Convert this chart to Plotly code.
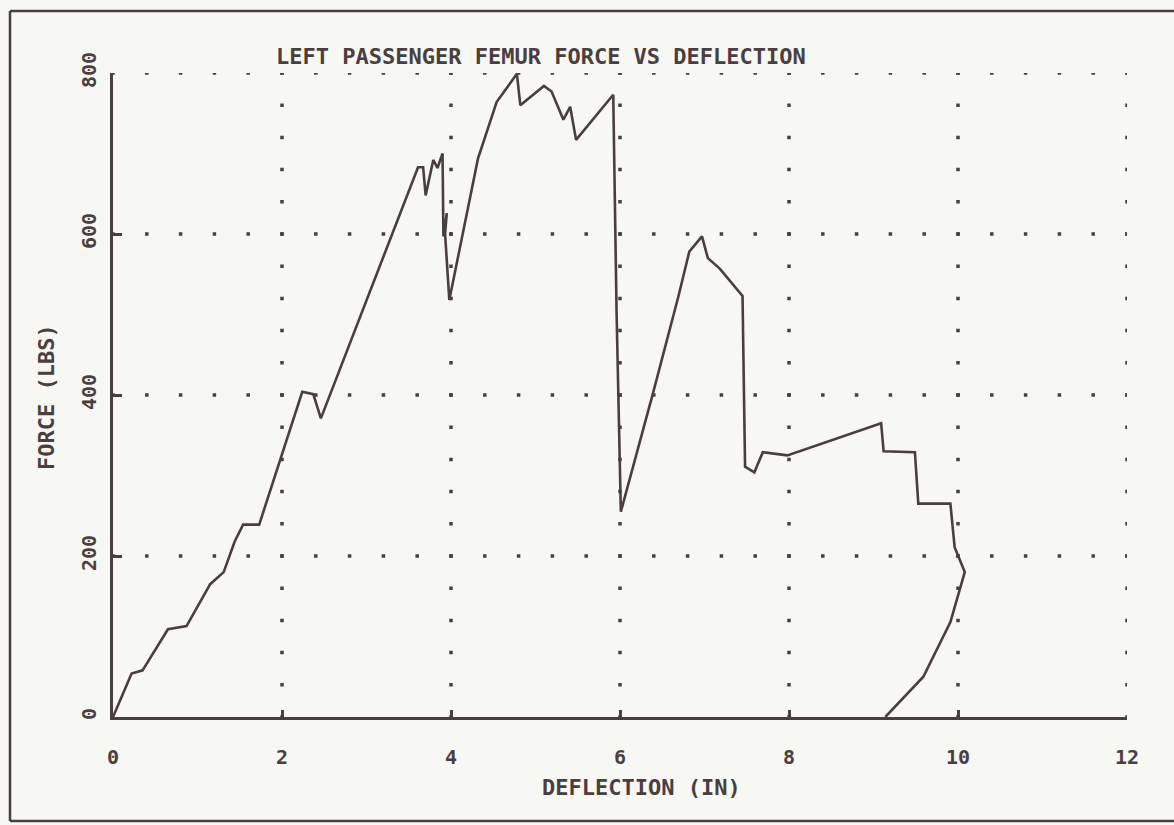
import plotly.graph_objects as go

# Deflection (in) and femur force (lbs)
deflection = [0.00, 0.22, 0.35, 0.65, 0.87, 1.15, 1.31, 1.44, 1.54, 1.73, 2.24, 2.37, 2.46,
              3.61, 3.67, 3.70, 3.79, 3.84, 3.90, 3.91, 3.95, 3.93, 3.98,
              4.32, 4.54, 4.78, 4.82, 5.10, 5.19, 5.33, 5.41, 5.48, 5.92, 5.96, 6.01,
              6.39, 6.69, 6.82, 6.97, 7.04, 7.18, 7.45, 7.48, 7.59, 7.69, 7.98,
              9.09, 9.12, 9.49, 9.53, 9.91, 9.96, 10.08, 10.02, 9.91, 9.59, 9.14]
force = [0, 54, 58, 109, 113, 165, 180, 218, 239, 239, 404, 401, 371,
         683, 683, 648, 692, 682, 700, 597, 626, 600, 518,
         694, 764, 799, 760, 784, 777, 742, 758, 717, 773, 500, 255,
         402, 522, 578, 597, 570, 557, 523, 311, 304, 329, 325,
         365, 330, 329, 265, 265, 211, 180, 158, 118, 50, 0]

x_ticks = [0, 2, 4, 6, 8, 10, 12]
y_ticks = [0, 200, 400, 600, 800]
x_range = [0, 12]
y_range = [0, 800]

title_text = "LEFT PASSENGER FEMUR FORCE VS DEFLECTION"
x_title = "DEFLECTION (IN)"
y_title = "FORCE (LBS)"

INK = "#4a3e3f"
BG = "#f7f7f3"
FONT = "DejaVu Sans Mono"

fig = go.Figure()
fig.add_trace(go.Scatter(x=deflection, y=force, mode="lines",
                         line=dict(color=INK, width=2.6), showlegend=False,
                         hoverinfo="skip"))

W, H = 1174, 825
L, R, T, B = 113, 47, 73, 108
pw, ph = W - L - R, H - T - B

def px(xp):
    return (xp - L) / pw

def py(yp):
    return (H - B - yp) / ph

DOT = 3.5
# dotted grid: dots every 0.4 in along rows, every 40 lbs along columns
row_gap = pw * 0.4 / (x_range[1] - x_range[0]) - DOT
col_gap = ph * 40 / (y_range[1] - y_range[0]) - DOT
half_dx = (DOT / 2) * (x_range[1] - x_range[0]) / pw
half_dy = (DOT / 2) * (y_range[1] - y_range[0]) / ph

shapes = []
for yv in y_ticks[1:]:
    shapes.append(dict(type="line", xref="x", yref="y",
                       x0=x_range[0] - half_dx, x1=x_range[1] + half_dx, y0=yv, y1=yv,
                       line=dict(color=INK, width=DOT, dash=f"{DOT}px,{row_gap:.2f}px"),
                       layer="below"))
for xv in x_ticks[1:]:
    shapes.append(dict(type="line", xref="x", yref="y",
                       x0=xv, x1=xv, y0=y_range[1] + half_dy, y1=y_range[0] - half_dy,
                       line=dict(color=INK, width=DOT, dash=f"{DOT}px,{col_gap:.2f}px"),
                       layer="below"))

# outer frame: top, left, bottom (right edge runs off the page)
for (a, b, c, d) in [(10, 11, 1180, 11), (10, 11, 10, 821), (10, 821, 1180, 821)]:
    shapes.append(dict(type="line", xref="paper", yref="paper",
                       x0=px(a), y0=py(b), x1=px(c), y1=py(d),
                       line=dict(color=INK, width=2.5)))

fig.update_layout(
    width=W, height=H,
    margin=dict(l=L, r=R, t=T, b=B, pad=0),
    paper_bgcolor=BG, plot_bgcolor=BG,
    font=dict(family=FONT, color=INK, size=20, weight="bold"),
    xaxis=dict(range=x_range, tickvals=x_ticks, ticktext=[str(v) for v in x_ticks],
               showline=True, linecolor=INK, linewidth=2.5,
               ticks="inside", ticklen=7, tickwidth=2.5, tickcolor=INK,
               showgrid=False, zeroline=False, ticklabelstandoff=20,
               tickfont=dict(family=FONT, size=20, color=INK, weight="bold"),
               fixedrange=True),
    yaxis=dict(range=y_range, tickvals=y_ticks, ticktext=[str(v) for v in y_ticks],
               showline=True, linecolor=INK, linewidth=2.5,
               ticks="inside", ticklen=9, tickwidth=2.5, tickcolor=INK,
               showgrid=False, zeroline=False, tickangle=-90, ticklabelstandoff=6,
               tickfont=dict(family=FONT, size=20, color=INK, weight="bold"),
               fixedrange=True),
    annotations=[
        dict(text=title_text, x=px(541), y=py(57), xref="paper", yref="paper",
             showarrow=False, xanchor="center", yanchor="middle",
             font=dict(family=FONT, size=22, color=INK, weight="bold")),
        dict(text=x_title, x=px(641), y=py(787), xref="paper", yref="paper",
             showarrow=False, xanchor="center", yanchor="middle",
             font=dict(family=FONT, size=22, color=INK, weight="bold")),
        dict(text=y_title, x=px(47), y=py(397), xref="paper", yref="paper",
             showarrow=False, xanchor="center", yanchor="middle", textangle=-90,
             font=dict(family=FONT, size=22, color=INK, weight="bold")),
    ],
    shapes=shapes,
)

fig.write_html("out.html")
